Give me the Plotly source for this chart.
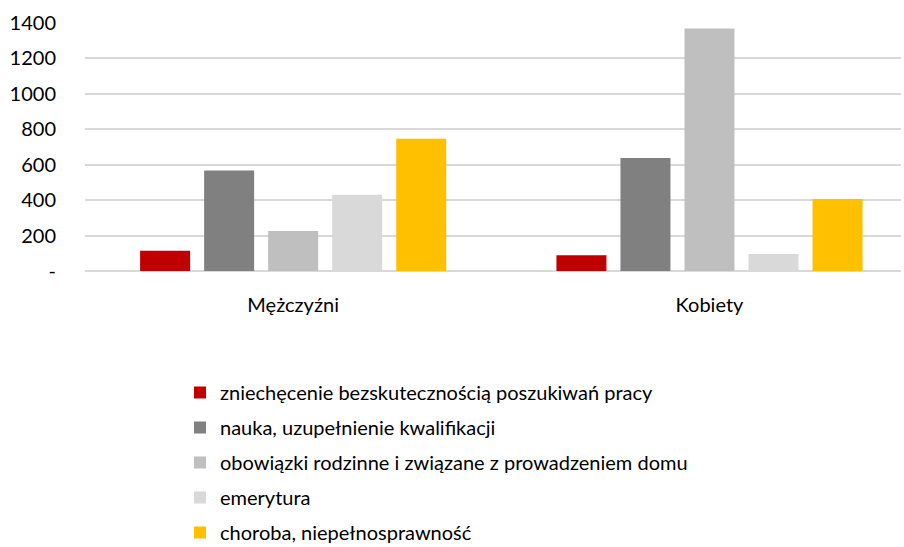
import plotly.graph_objects as go

categories = ["Mężczyźni", "Kobiety"]
series_names = [
    "zniechęcenie bezskutecznością poszukiwań pracy",
    "nauka, uzupełnienie kwalifikacji",
    "obowiązki rodzinne i związane z prowadzeniem domu",
    "emerytura",
    "choroba, niepełnosprawność",
]
values_zniechecenie = [115, 89]
values_nauka = [567, 638]
values_obowiazki = [226, 1369]
values_emerytura = [431, 96]
values_choroba = [746, 407]
colors = ["#C00000", "#808080", "#BFBFBF", "#D9D9D9", "#FFC000"]
tick_vals = [0, 200, 400, 600, 800, 1000, 1200, 1400]
tick_text = ["-", "200", "400", "600", "800", "1000", "1200", "1400"]

series_values = [values_zniechecenie, values_nauka, values_obowiazki, values_emerytura, values_choroba]

FONT = "Lato"
FS = 20
fig = go.Figure()
for i, (name, vals, col) in enumerate(zip(series_names, series_values, colors)):
    fig.add_trace(go.Bar(x=categories, y=vals, name=name, marker_color=col,
                         marker_line_width=0, legendgroup=f"g{i}"))

plot_top, plot_bot, plot_l, plot_r = 23, 271, 85, 901
ph = plot_bot - plot_top
pw = plot_r - plot_l
fig.update_layout(
    width=904, height=547,
    margin=dict(l=plot_l, r=904 - plot_r, t=plot_top, b=547 - plot_bot, autoexpand=False),
    paper_bgcolor="white", plot_bgcolor="white",
    barmode="group", bargap=0.231, bargroupgap=0.219,
    font=dict(family=FONT, size=FS, color="#000000"),
    showlegend=True,
    legend=dict(x=(180 - plot_l) / pw, y=(plot_bot - 373) / ph,
                xanchor="left", yanchor="top", orientation="v",
                font=dict(family=FONT, size=FS, color="#000000"),
                tracegroupgap=6, itemwidth=30, traceorder="grouped",
                bgcolor="rgba(0,0,0,0)"),
)
fig.update_xaxes(range=[-0.5, 1.46], showgrid=False, showline=False,
                 ticks="outside", ticklen=16, tickcolor="rgba(0,0,0,0)",
                 tickfont=dict(family=FONT, size=FS))
fig.update_yaxes(range=[0, 1400], tickvals=tick_vals, ticktext=tick_text,
                 showgrid=True, gridcolor="#D9D9D9", gridwidth=1.5,
                 zeroline=True, zerolinecolor="#D9D9D9", zerolinewidth=1.5,
                 ticks="outside", ticklen=24, tickcolor="rgba(0,0,0,0)",
                 tickfont=dict(family=FONT, size=FS))

fig.write_html("out.html", config={"displayModeBar": False},
               post_script="document.body.style.margin='0';")
